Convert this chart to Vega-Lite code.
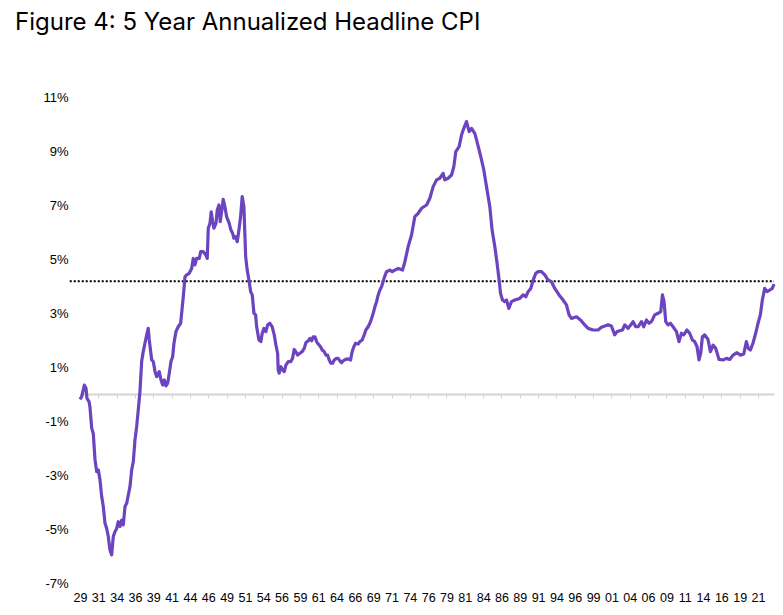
{
  "$schema": "https://vega.github.io/schema/vega-lite/v6.json",
  "width": 694,
  "height": 486,
  "autosize": {"type": "none"},
  "padding": {"left": 80, "top": 97, "right": 9, "bottom": 32},
  "background": "white",
  "title": {
    "text": "Figure 4: 5 Year Annualized Headline CPI",
    "anchor": "start",
    "frame": "group",
    "font": "Inter",
    "fontSize": 24,
    "fontWeight": "normal",
    "color": "#000000",
    "dx": -65,
    "baseline": "alphabetic",
    "offset": 37
  },
  "config": {"view": {"stroke": null}},
  "datasets": {
    "cpi": [
      {"t": 1929.00, "v": -0.20}, {"t": 1929.23, "v": -0.10}, {"t": 1929.59, "v": 0.33}, {"t": 1929.82, "v": 0.21},
      {"t": 1929.95, "v": -0.16}, {"t": 1930.23, "v": -0.28}, {"t": 1930.36, "v": -0.49}, {"t": 1930.60, "v": -1.27},
      {"t": 1930.81, "v": -1.46}, {"t": 1931.05, "v": -2.44}, {"t": 1931.28, "v": -2.88}, {"t": 1931.50, "v": -2.81},
      {"t": 1931.73, "v": -3.19}, {"t": 1931.96, "v": -3.80}, {"t": 1932.18, "v": -4.17}, {"t": 1932.41, "v": -4.79},
      {"t": 1932.64, "v": -4.98}, {"t": 1932.86, "v": -5.28}, {"t": 1933.09, "v": -5.78}, {"t": 1933.32, "v": -5.96},
      {"t": 1933.54, "v": -5.28}, {"t": 1933.77, "v": -5.10}, {"t": 1934.00, "v": -4.98}, {"t": 1934.22, "v": -4.73},
      {"t": 1934.45, "v": -4.91}, {"t": 1934.69, "v": -4.67}, {"t": 1934.90, "v": -4.85}, {"t": 1935.14, "v": -4.17},
      {"t": 1935.37, "v": -4.05}, {"t": 1935.59, "v": -3.74}, {"t": 1935.82, "v": -3.43}, {"t": 1936.05, "v": -2.81},
      {"t": 1936.27, "v": -2.51}, {"t": 1936.50, "v": -1.70}, {"t": 1936.73, "v": -1.21}, {"t": 1936.95, "v": -0.59},
      {"t": 1937.18, "v": 0.09}, {"t": 1937.41, "v": 1.20}, {"t": 1937.63, "v": 1.57}, {"t": 1937.86, "v": 1.88},
      {"t": 1938.10, "v": 2.19}, {"t": 1938.31, "v": 2.43}, {"t": 1938.45, "v": 2.00}, {"t": 1938.78, "v": 1.26},
      {"t": 1939.00, "v": 1.20}, {"t": 1939.23, "v": 0.83}, {"t": 1939.46, "v": 0.64}, {"t": 1939.81, "v": 0.83},
      {"t": 1940.05, "v": 0.52}, {"t": 1940.28, "v": 0.33}, {"t": 1940.50, "v": 0.52}, {"t": 1940.73, "v": 0.30},
      {"t": 1940.96, "v": 0.40}, {"t": 1941.18, "v": 0.77}, {"t": 1941.41, "v": 1.20}, {"t": 1941.64, "v": 1.38},
      {"t": 1941.82, "v": 1.88}, {"t": 1942.09, "v": 2.31}, {"t": 1942.40, "v": 2.49}, {"t": 1942.73, "v": 2.62},
      {"t": 1942.91, "v": 3.11}, {"t": 1943.09, "v": 3.60}, {"t": 1943.32, "v": 4.34}, {"t": 1943.55, "v": 4.41},
      {"t": 1943.90, "v": 4.47}, {"t": 1944.23, "v": 4.65}, {"t": 1944.45, "v": 5.02}, {"t": 1944.68, "v": 4.78},
      {"t": 1944.91, "v": 5.02}, {"t": 1945.27, "v": 5.02}, {"t": 1945.46, "v": 5.27}, {"t": 1945.81, "v": 5.27},
      {"t": 1946.18, "v": 5.15}, {"t": 1946.36, "v": 5.02}, {"t": 1946.50, "v": 6.14}, {"t": 1946.73, "v": 6.32},
      {"t": 1946.90, "v": 6.75}, {"t": 1947.10, "v": 6.38}, {"t": 1947.27, "v": 6.14}, {"t": 1947.55, "v": 6.32},
      {"t": 1947.72, "v": 6.81}, {"t": 1947.95, "v": 7.00}, {"t": 1948.13, "v": 6.38}, {"t": 1948.32, "v": 6.75},
      {"t": 1948.54, "v": 7.21}, {"t": 1948.77, "v": 6.94}, {"t": 1949.00, "v": 6.57}, {"t": 1949.36, "v": 6.32},
      {"t": 1949.59, "v": 6.07}, {"t": 1949.82, "v": 5.95}, {"t": 1950.00, "v": 5.77}, {"t": 1950.23, "v": 5.83},
      {"t": 1950.45, "v": 5.64}, {"t": 1950.68, "v": 6.07}, {"t": 1950.91, "v": 6.57}, {"t": 1951.13, "v": 7.31},
      {"t": 1951.36, "v": 6.94}, {"t": 1951.60, "v": 5.09}, {"t": 1951.81, "v": 4.59}, {"t": 1952.05, "v": 4.22},
      {"t": 1952.28, "v": 3.79}, {"t": 1952.50, "v": 3.67}, {"t": 1952.73, "v": 2.99}, {"t": 1952.96, "v": 2.93},
      {"t": 1953.10, "v": 2.49}, {"t": 1953.41, "v": 2.00}, {"t": 1953.68, "v": 1.94}, {"t": 1953.86, "v": 2.25},
      {"t": 1954.09, "v": 2.43}, {"t": 1954.36, "v": 2.31}, {"t": 1954.60, "v": 2.56}, {"t": 1954.91, "v": 2.62},
      {"t": 1955.22, "v": 2.49}, {"t": 1955.50, "v": 2.19}, {"t": 1955.73, "v": 1.81}, {"t": 1955.96, "v": 1.51},
      {"t": 1956.04, "v": 0.89}, {"t": 1956.18, "v": 0.77}, {"t": 1956.41, "v": 1.01}, {"t": 1956.64, "v": 0.89},
      {"t": 1956.86, "v": 0.83}, {"t": 1957.09, "v": 1.07}, {"t": 1957.40, "v": 1.20}, {"t": 1957.77, "v": 1.20},
      {"t": 1958.00, "v": 1.32}, {"t": 1958.22, "v": 1.65}, {"t": 1958.45, "v": 1.57}, {"t": 1958.69, "v": 1.44},
      {"t": 1959.00, "v": 1.51}, {"t": 1959.31, "v": 1.57}, {"t": 1959.59, "v": 1.69}, {"t": 1959.82, "v": 1.90},
      {"t": 1960.13, "v": 1.97}, {"t": 1960.36, "v": 2.06}, {"t": 1960.60, "v": 1.97}, {"t": 1960.81, "v": 2.12},
      {"t": 1961.05, "v": 2.12}, {"t": 1961.28, "v": 1.94}, {"t": 1961.50, "v": 1.85}, {"t": 1961.82, "v": 1.75},
      {"t": 1962.04, "v": 1.63}, {"t": 1962.31, "v": 1.57}, {"t": 1962.55, "v": 1.44}, {"t": 1962.78, "v": 1.44},
      {"t": 1963.00, "v": 1.26}, {"t": 1963.23, "v": 1.14}, {"t": 1963.46, "v": 1.14}, {"t": 1963.68, "v": 1.26},
      {"t": 1964.00, "v": 1.32}, {"t": 1964.22, "v": 1.32}, {"t": 1964.45, "v": 1.23}, {"t": 1964.69, "v": 1.16},
      {"t": 1964.90, "v": 1.23}, {"t": 1965.23, "v": 1.28}, {"t": 1965.59, "v": 1.30}, {"t": 1965.91, "v": 1.26},
      {"t": 1966.13, "v": 1.57}, {"t": 1966.36, "v": 1.75}, {"t": 1966.60, "v": 1.88}, {"t": 1966.95, "v": 1.85},
      {"t": 1967.18, "v": 1.94}, {"t": 1967.50, "v": 2.00}, {"t": 1967.77, "v": 2.19}, {"t": 1968.00, "v": 2.37},
      {"t": 1968.31, "v": 2.49}, {"t": 1968.55, "v": 2.62}, {"t": 1968.78, "v": 2.80}, {"t": 1969.00, "v": 2.99},
      {"t": 1969.23, "v": 3.23}, {"t": 1969.46, "v": 3.42}, {"t": 1969.68, "v": 3.67}, {"t": 1969.91, "v": 3.85},
      {"t": 1970.14, "v": 3.97}, {"t": 1970.50, "v": 4.30}, {"t": 1970.82, "v": 4.53}, {"t": 1971.27, "v": 4.59},
      {"t": 1971.60, "v": 4.53}, {"t": 1971.95, "v": 4.59}, {"t": 1972.41, "v": 4.65}, {"t": 1973.00, "v": 4.59},
      {"t": 1973.32, "v": 4.90}, {"t": 1973.77, "v": 5.46}, {"t": 1974.23, "v": 5.89}, {"t": 1974.68, "v": 6.57},
      {"t": 1975.13, "v": 6.69}, {"t": 1975.60, "v": 6.88}, {"t": 1976.28, "v": 7.00}, {"t": 1976.73, "v": 7.25},
      {"t": 1977.18, "v": 7.68}, {"t": 1977.64, "v": 7.93}, {"t": 1978.09, "v": 7.99}, {"t": 1978.54, "v": 8.17},
      {"t": 1978.77, "v": 7.93}, {"t": 1979.22, "v": 7.99}, {"t": 1979.69, "v": 8.11}, {"t": 1980.00, "v": 8.42},
      {"t": 1980.27, "v": 8.98}, {"t": 1980.72, "v": 9.16}, {"t": 1981.05, "v": 9.59}, {"t": 1981.36, "v": 9.84},
      {"t": 1981.73, "v": 10.09}, {"t": 1982.09, "v": 9.72}, {"t": 1982.41, "v": 9.84}, {"t": 1982.86, "v": 9.65},
      {"t": 1983.10, "v": 9.41}, {"t": 1983.45, "v": 9.04}, {"t": 1983.78, "v": 8.67}, {"t": 1984.09, "v": 8.30},
      {"t": 1984.46, "v": 7.68}, {"t": 1984.91, "v": 6.94}, {"t": 1985.22, "v": 6.07}, {"t": 1985.59, "v": 5.46},
      {"t": 1985.90, "v": 4.84}, {"t": 1986.18, "v": 4.22}, {"t": 1986.37, "v": 3.73}, {"t": 1986.64, "v": 3.48},
      {"t": 1986.95, "v": 3.42}, {"t": 1987.19, "v": 3.48}, {"t": 1987.50, "v": 3.17}, {"t": 1987.87, "v": 3.42},
      {"t": 1988.32, "v": 3.48}, {"t": 1989.00, "v": 3.54}, {"t": 1989.45, "v": 3.67}, {"t": 1989.82, "v": 3.60},
      {"t": 1990.13, "v": 3.79}, {"t": 1990.50, "v": 3.91}, {"t": 1990.82, "v": 4.22}, {"t": 1991.18, "v": 4.47},
      {"t": 1991.50, "v": 4.53}, {"t": 1991.96, "v": 4.53}, {"t": 1992.41, "v": 4.41}, {"t": 1992.86, "v": 4.22},
      {"t": 1993.32, "v": 4.16}, {"t": 1993.77, "v": 3.91}, {"t": 1994.36, "v": 3.67}, {"t": 1994.90, "v": 3.48},
      {"t": 1995.37, "v": 3.30}, {"t": 1995.72, "v": 2.93}, {"t": 1996.05, "v": 2.80}, {"t": 1996.73, "v": 2.86},
      {"t": 1997.28, "v": 2.74}, {"t": 1997.86, "v": 2.56}, {"t": 1998.31, "v": 2.43}, {"t": 1999.00, "v": 2.37},
      {"t": 1999.68, "v": 2.37}, {"t": 2000.14, "v": 2.47}, {"t": 2000.59, "v": 2.52}, {"t": 2001.04, "v": 2.56},
      {"t": 2001.50, "v": 2.52}, {"t": 2001.95, "v": 2.19}, {"t": 2002.27, "v": 2.31}, {"t": 2002.64, "v": 2.34},
      {"t": 2003.00, "v": 2.37}, {"t": 2003.32, "v": 2.56}, {"t": 2003.77, "v": 2.43}, {"t": 2004.23, "v": 2.59},
      {"t": 2004.45, "v": 2.68}, {"t": 2004.82, "v": 2.49}, {"t": 2005.13, "v": 2.49}, {"t": 2005.60, "v": 2.68},
      {"t": 2005.91, "v": 2.49}, {"t": 2006.28, "v": 2.74}, {"t": 2006.63, "v": 2.62}, {"t": 2006.96, "v": 2.68},
      {"t": 2007.41, "v": 2.93}, {"t": 2007.86, "v": 2.99}, {"t": 2008.23, "v": 3.05}, {"t": 2008.46, "v": 3.67},
      {"t": 2008.68, "v": 3.42}, {"t": 2008.91, "v": 2.68}, {"t": 2009.22, "v": 2.56}, {"t": 2009.55, "v": 2.62},
      {"t": 2009.91, "v": 2.49}, {"t": 2010.37, "v": 2.31}, {"t": 2010.72, "v": 1.94}, {"t": 2011.05, "v": 2.25},
      {"t": 2011.36, "v": 2.19}, {"t": 2011.81, "v": 2.37}, {"t": 2012.18, "v": 2.25}, {"t": 2012.55, "v": 2.00},
      {"t": 2012.86, "v": 1.94}, {"t": 2013.18, "v": 1.75}, {"t": 2013.45, "v": 1.26}, {"t": 2013.68, "v": 1.51},
      {"t": 2013.91, "v": 2.12}, {"t": 2014.23, "v": 2.19}, {"t": 2014.68, "v": 2.02}, {"t": 2015.00, "v": 1.57},
      {"t": 2015.36, "v": 1.81}, {"t": 2015.73, "v": 1.69}, {"t": 2016.18, "v": 1.28}, {"t": 2016.72, "v": 1.26},
      {"t": 2017.19, "v": 1.32}, {"t": 2017.64, "v": 1.28}, {"t": 2018.09, "v": 1.44}, {"t": 2018.63, "v": 1.53},
      {"t": 2019.10, "v": 1.44}, {"t": 2019.55, "v": 1.48}, {"t": 2019.91, "v": 1.94}, {"t": 2020.18, "v": 1.69},
      {"t": 2020.46, "v": 1.63}, {"t": 2020.81, "v": 1.88}, {"t": 2021.18, "v": 2.25}, {"t": 2021.50, "v": 2.62},
      {"t": 2021.82, "v": 2.93}, {"t": 2022.09, "v": 3.48}, {"t": 2022.41, "v": 3.91}, {"t": 2022.72, "v": 3.79},
      {"t": 2023.09, "v": 3.85}, {"t": 2023.45, "v": 3.91}, {"t": 2023.68, "v": 4.07}
    ],
    "avg": [{"start": 1927.6, "end": 2023.68, "v": 4.18}]
  },
  "layer": [
    {
      "data": {"name": "avg"},
      "mark": {"type": "rule", "color": "#000000", "strokeWidth": 2, "strokeDash": [2, 2]},
      "encoding": {
        "x": {
          "field": "start", "type": "quantitative",
          "scale": {"domain": [1929, 2023.68], "nice": false, "zero": false},
          "axis": {
            "orient": "bottom", "offset": -189, "labels": false, "grid": false,
            "domain": true, "domainColor": "#d4d4d4", "domainWidth": 2,
            "ticks": true, "tickColor": "#d4d4d4", "tickSize": 4, "tickWidth": 1,
            "values": [1929, 1931.5, 1934, 1936.5, 1939, 1941.5, 1944, 1946.5, 1949, 1951.5, 1954, 1956.5, 1959, 1961.5, 1964, 1966.5, 1969, 1971.5, 1974, 1976.5, 1979, 1981.5, 1984, 1986.5, 1989, 1991.5, 1994, 1996.5, 1999, 2001.5, 2004, 2006.5, 2009, 2011.5, 2014, 2016.5, 2019, 2021.5],
            "title": null
          }
        },
        "x2": {"field": "end"},
        "y": {"field": "v", "type": "quantitative"}
      }
    },
    {
      "data": {"name": "cpi"},
      "mark": {"type": "line", "color": "#6C44BF", "strokeWidth": 3.2, "strokeJoin": "round"},
      "encoding": {
        "x": {
          "field": "t", "type": "quantitative",
          "scale": {"domain": [1929, 2023.68], "nice": false, "zero": false},
          "axis": {
            "orient": "bottom", "grid": false, "domain": false, "ticks": false,
            "labelPadding": 8, "labelFont": "Liberation Sans", "labelFontSize": 12.5, "labelColor": "#000000",
            "labelOverlap": false, "labelFlush": false,
            "values": [1929, 1931.5, 1934, 1936.5, 1939, 1941.5, 1944, 1946.5, 1949, 1951.5, 1954, 1956.5, 1959, 1961.5, 1964, 1966.5, 1969, 1971.5, 1974, 1976.5, 1979, 1981.5, 1984, 1986.5, 1989, 1991.5, 1994, 1996.5, 1999, 2001.5, 2004, 2006.5, 2009, 2011.5, 2014, 2016.5, 2019, 2021.5],
            "labelExpr": "slice('0' + (floor(datum.value) % 100), -2)",
            "title": null
          }
        },
        "y": {
          "field": "v", "type": "quantitative",
          "scale": {"domain": [-7, 11], "nice": false, "zero": false},
          "axis": {
            "grid": false, "domain": false, "ticks": false, "labelPadding": 12,
            "labelFont": "Liberation Sans", "labelFontSize": 13, "labelColor": "#000000",
            "values": [-7, -5, -3, -1, 1, 3, 5, 7, 9, 11],
            "labelExpr": "datum.value + '%'",
            "title": null
          }
        }
      }
    }
  ],
  "resolve": {"axis": {"x": "independent"}}
}
